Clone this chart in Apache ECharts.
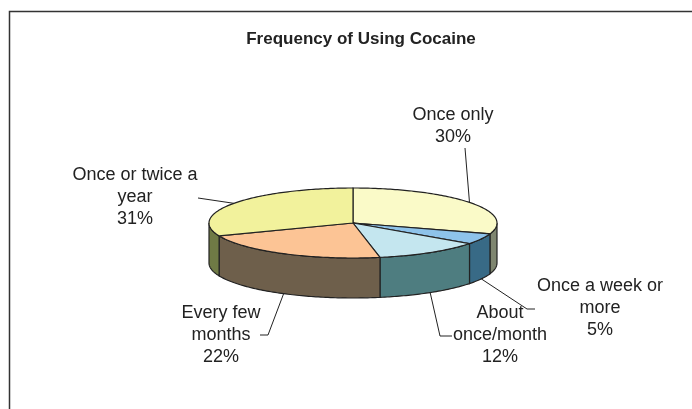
<!DOCTYPE html>
<html><head><meta charset="utf-8">
<script src="https://cdn.jsdelivr.net/npm/echarts@6.0.0/dist/echarts.min.js"></script>
<style>html,body{margin:0;padding:0;background:#fff}#c{width:692px;height:409px}</style>
</head><body><div id="c"></div>
<script>
// ---- data ----
const categories = ['Once only', 'Once a week or more', 'About once/month', 'Every few months', 'Once or twice a year'];
const labelTexts = ['Once only', 'Once a week or\nmore', 'About\nonce/month', 'Every few\nmonths', 'Once or twice a\nyear'];
const values = [30, 5, 12, 22, 31];
const chartTitle = 'Frequency of Using Cocaine';

// ---- styles / layout ----
const topColors  = ['#FAFAC8', '#8EC3EA', '#C4E6EF', '#FCC495', '#F2F29C'];
const sideColors = ['#7F8670', '#386A86', '#4E7D80', '#6E5F4B', '#6F7A45'];
const labelLayout = [
  {x: 453, y: 126, leader: [[465, 148]]},
  {x: 600, y: 308, leader: [[527, 309], [535, 309]]},
  {x: 500, y: 335, leader: [[440, 336], [452, 336]]},
  {x: 221, y: 335, leader: [[268, 335], [260, 335]]},
  {x: 135, y: 197, leader: [[198, 198]]}
];
const PIE = {cx: 353, cy: 223, rx: 144, ry: 35, depth: 40};
const FONT = '"Liberation Sans", Arial, sans-serif';

const total = values.reduce((a, b) => a + b, 0);
const starts = [];
let acc = 0;
values.forEach(v => { starts.push(acc / total * 360); acc += v; });

function pt(deg, dy) {
  const r = deg * Math.PI / 180;
  return [PIE.cx + PIE.rx * Math.sin(r), PIE.cy - PIE.ry * Math.cos(r) + (dy || 0)];
}
function arc(a0, a1, dy) {
  const pts = [];
  const n = Math.max(2, Math.ceil(Math.abs(a1 - a0)));
  for (let i = 0; i <= n; i++) pts.push(pt(a0 + (a1 - a0) * i / n, dy));
  return pts;
}

const chart = echarts.init(document.getElementById('c'), null, {renderer: 'canvas'});
chart.setOption({
  animation: false,
  backgroundColor: '#fff',
  title: {
    text: chartTitle, left: 356, top: 26, textAlign: 'center',
    textStyle: {fontFamily: FONT, fontSize: 17, fontWeight: 'bold', color: '#222'}
  },
  graphic: [{
    type: 'rect', shape: {x: 9.5, y: 11.5, width: 900, height: 600},
    style: {fill: null, stroke: '#333', lineWidth: 1.5}, silent: true
  }],
  series: [{
    type: 'custom',
    coordinateSystem: 'none',
    data: values.map((v, i) => ({name: categories[i], value: v})),
    renderItem: function (params, api) {
      const i = params.dataIndex;
      const v = api.value(0);
      const a0 = starts[i], a1 = a0 + v / total * 360;
      const children = [];
      const s = Math.max(a0, 90), e = Math.min(a1, 270);
      if (e > s) {
        const top = arc(s, e, 0);
        const bot = arc(e, s, PIE.depth);
        children.push({type: 'polygon', z2: 1, shape: {points: top.concat(bot)},
          style: {fill: sideColors[i], stroke: '#222', lineWidth: 1.2}});
      }
      children.push({type: 'polygon', z2: 10, shape: {points: [[PIE.cx, PIE.cy]].concat(arc(a0, a1, 0))},
        style: {fill: topColors[i], stroke: '#222', lineWidth: 1.2}});
      const mid = (a0 + a1) / 2;
      const front = mid > 90 && mid < 270;
      const start = pt(mid, front ? PIE.depth : 0);
      const L = labelLayout[i];
      children.push({type: 'polyline', z2: 20, shape: {points: [start].concat(L.leader)},
        style: {stroke: '#222', lineWidth: 1, fill: null}});
      children.push({type: 'text', z2: 20, x: L.x, y: L.y,
        style: {text: labelTexts[i] + '\n' + v + '%', align: 'center', verticalAlign: 'middle',
          font: '18px ' + FONT, lineHeight: 22, fill: '#222'}});
      return {type: 'group', children: children};
    }
  }]
});
</script>
</body></html>
